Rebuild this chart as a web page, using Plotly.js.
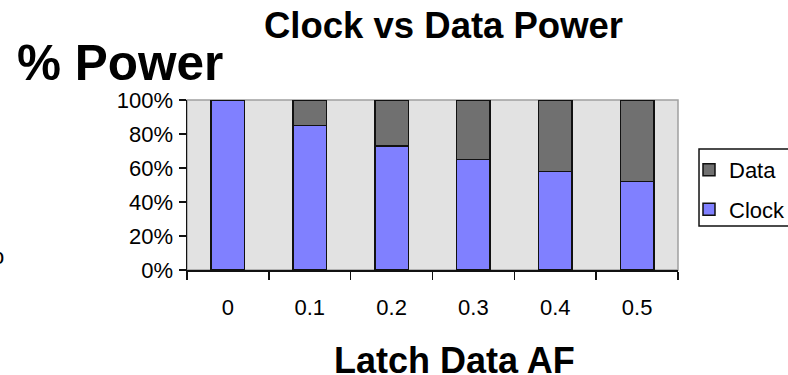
<!DOCTYPE html>
<html>
<head>
<meta charset="utf-8">
<script src="https://cdn.plot.ly/plotly-3.0.1.min.js"></script>
<style>html,body{margin:0;padding:0;background:#fff;}#chart{width:788px;height:375px;}</style>
</head>
<body>
<div id="chart"></div>
<script>
const categories = ['0', '0.1', '0.2', '0.3', '0.4', '0.5'];
const clockValues = [1.00, 0.85, 0.73, 0.65, 0.58, 0.52];
const dataValues = [0.00, 0.15, 0.27, 0.35, 0.42, 0.48];
const yTickValues = [0, 0.2, 0.4, 0.6, 0.8, 1.0];

const FONT = '"Liberation Sans", Arial, sans-serif';

const traces = [
  {
    type: 'bar', name: 'Clock', x: categories, y: clockValues,
    legendgroup: 'clock', legendrank: 2,
    marker: {color: '#8080FF', line: {color: '#111', width: 1.5}}
  },
  {
    type: 'bar', name: 'Data', x: categories, y: dataValues,
    legendgroup: 'data', legendrank: 1,
    marker: {color: '#707070', line: {color: '#111', width: 1.5}}
  }
];

const layout = {
  width: 788, height: 375,
  margin: {l: 187, r: 110, t: 100, b: 105, pad: 0, autoexpand: false},
  paper_bgcolor: '#ffffff',
  plot_bgcolor: '#E2E2E2',
  barmode: 'stack',
  bargap: 0.59,
  showlegend: true,
  font: {family: FONT, color: '#000', size: 22},
  xaxis: {
    type: 'category', automargin: false,
    showline: true, linecolor: '#111', linewidth: 1.5,
    ticks: 'outside', tickson: 'boundaries', ticklen: 8, tickwidth: 1.5, tickcolor: '#111',
    ticklabelstandoff: 17,
    showgrid: false, zeroline: false,
    tickfont: {family: FONT, size: 22, color: '#000'}
  },
  yaxis: {
    range: [0, 1], tickvals: yTickValues, tickformat: '.0%', automargin: false,
    showline: true, linecolor: '#111', linewidth: 1.5,
    ticks: 'outside', ticklen: 7, tickwidth: 1.5, tickcolor: '#111',
    ticklabelstandoff: 1,
    showgrid: false, zeroline: false,
    tickfont: {family: FONT, size: 22, color: '#000'}
  },
  legend: {
    x: 1.0224, y: 0.712, xanchor: 'left', yanchor: 'top',
    borderwidth: 0, bgcolor: 'rgba(0,0,0,0)',
    traceorder: 'grouped', tracegroupgap: 8,
    font: {family: FONT, size: 22, color: '#000'}
  },
  shapes: [
    {type: 'rect', xref: 'paper', yref: 'paper', x0: 0, x1: 1, y0: 0, y1: 1,
     line: {color: '#A0A0A0', width: 1.5}, layer: 'below'},
    {type: 'rect', xref: 'paper', yref: 'paper', x0: 1.0428, x1: 1.23, y0: 0.2588, y1: 0.7118,
     line: {color: '#111', width: 1.5}, fillcolor: 'rgba(0,0,0,0)', layer: 'above'}
  ],
  annotations: [
    {text: '<b>Clock vs Data Power</b>', xref: 'paper', yref: 'paper', x: 0.5234, y: 1.441,
     xanchor: 'center', yanchor: 'middle', showarrow: false, font: {family: FONT, size: 36.5, color: '#000'}},
    {text: '<b>% Power</b>', xref: 'paper', yref: 'paper', x: -0.1365, y: 1.2235,
     xanchor: 'center', yanchor: 'middle', showarrow: false, font: {family: FONT, size: 49.5, color: '#000'}},
    {text: '<b>Latch Data AF</b>', xref: 'paper', yref: 'paper', x: 0.5448, y: -0.53,
     xanchor: 'center', yanchor: 'middle', showarrow: false, font: {family: FONT, size: 36, color: '#000'}},
    {text: 'o', xref: 'paper', yref: 'paper', x: -0.385, y: 0.082,
     xanchor: 'center', yanchor: 'middle', showarrow: false, font: {family: FONT, size: 22, color: '#000'}}
  ]
};

Plotly.newPlot('chart', traces, layout, {displayModeBar: false, staticPlot: true});
</script>
</body>
</html>
